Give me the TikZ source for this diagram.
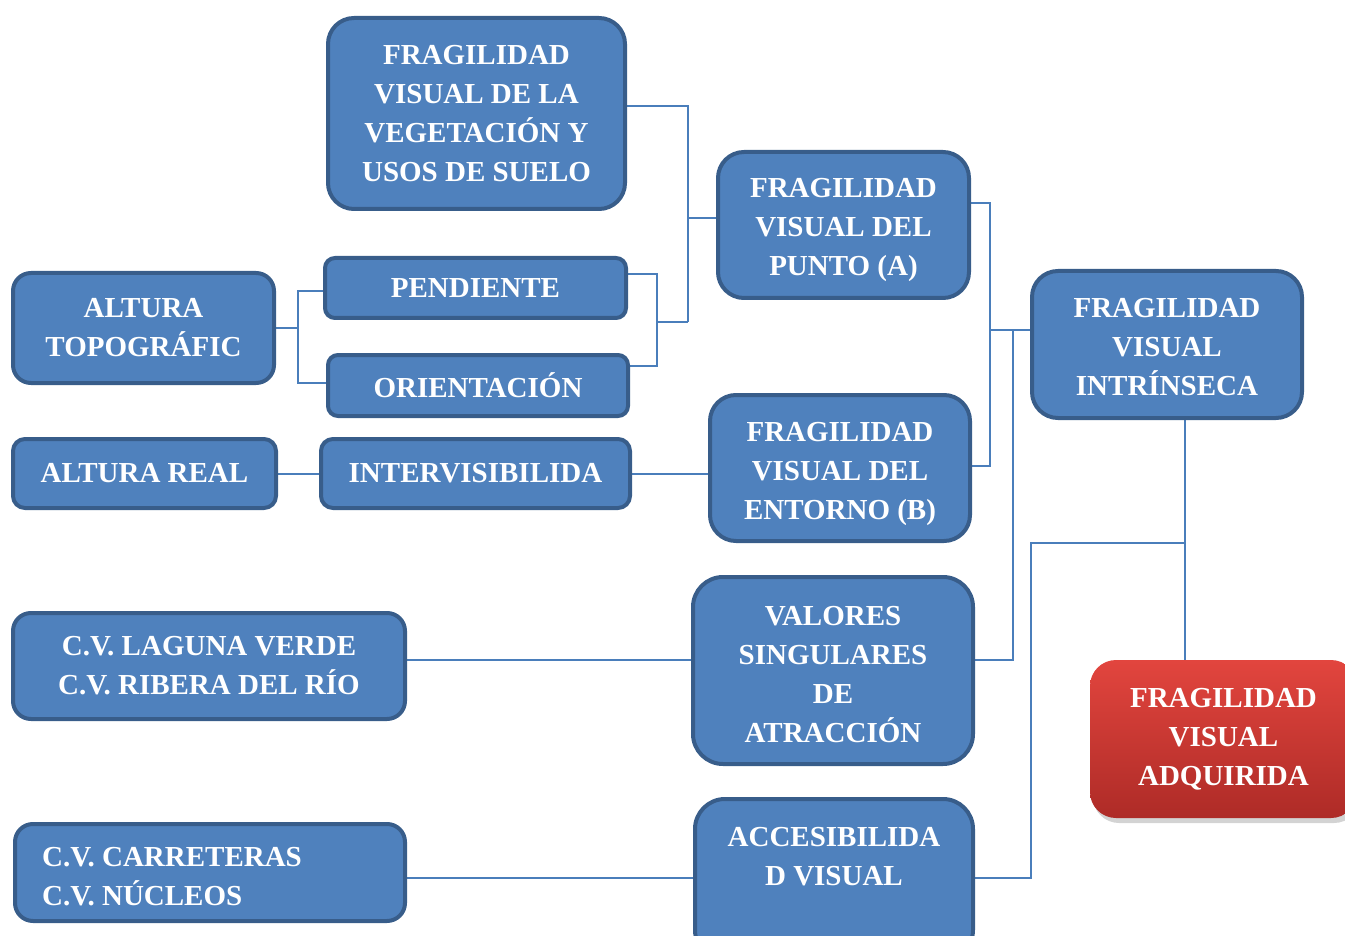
\documentclass[tikz,border=0pt]{standalone}
\usepackage{fontspec}
\setmainfont{Liberation Serif}
\usetikzlibrary{shadows,backgrounds}
\definecolor{boxfill}{HTML}{4F81BD}
\definecolor{boxedge}{HTML}{385D8A}
\definecolor{linkc}{HTML}{4A7EBB}
\definecolor{redtop}{HTML}{E2453E}
\definecolor{redbot}{HTML}{AE2B27}
\begin{document}
\begin{tikzpicture}[x=1pt,y=-1pt,
  box/.style={draw=boxedge, line width=4pt, fill=boxfill, rounded corners=#1,
    inner sep=0pt, align=center, text=white,
    font=\fontsize{29}{39}\selectfont\bfseries},
  box/.default=26pt,
  redbox/.style={draw=none, top color=redtop, bottom color=redbot, rounded corners=26pt,
    inner sep=0pt, align=center, text=white,
    font=\fontsize{29}{39}\selectfont\bfseries,
    drop shadow={opacity=0.35, shadow xshift=3pt, shadow yshift=-5pt}},
  txt/.style={inner sep=0pt, text=white, align=center, font=\fontsize{29}{39}\selectfont\bfseries},
  link/.style={draw=linkc, line width=2pt}]
\useasboundingbox (0,0) rectangle (1345,936);
\node[box, minimum width=297pt, minimum height=191pt] (veg) at (476.5,113.5)
  {FRAGILIDAD\\VISUAL DE LA\\VEGETACIÓN Y\\USOS DE SUELO};
\node[box, minimum width=251pt, minimum height=146pt] (ptoA) at (843.5,225) {};
\node[txt] (ptoAt) at (843.5,230) {FRAGILIDAD\\VISUAL DEL\\PUNTO (A)};
\node[box=18pt, minimum width=261pt, minimum height=110pt] (topo) at (143.5,328)
  {ALTURA\\TOPOGRÁFIC};
\node[box=10pt, minimum width=301pt, minimum height=60pt] (pend) at (475.5,288) {PENDIENTE};
\node[box=10pt, minimum width=300pt, minimum height=61pt] (orient) at (478,385.5) {ORIENTACIÓN};
\node[box, minimum width=270pt, minimum height=147pt] (intr) at (1167,344.5) {};
\node[txt] (intrt) at (1167,347.5) {FRAGILIDAD\\VISUAL\\INTRÍNSECA};
\node[box=12pt, minimum width=263pt, minimum height=69pt] (areal) at (144.5,473.5) {ALTURA REAL};
\node[box=12pt, minimum width=309pt, minimum height=69pt] (interv) at (475.5,473.5) {INTERVISIBILIDA};
\node[box, minimum width=260pt, minimum height=146pt] (entB) at (840,468) {};
\node[txt] (entBt) at (840,474) {FRAGILIDAD\\VISUAL DEL\\ENTORNO (B)};
\node[box=18pt, minimum width=392pt, minimum height=106pt] (lag) at (209,666)
  {C.V. LAGUNA VERDE\\C.V. RIBERA DEL RÍO};
\node[box=30pt, minimum width=280pt, minimum height=187pt] (val) at (833,670.5) {};
\node[txt] (valt) at (833,675) {VALORES\\SINGULARES\\DE\\ATRACCIÓN};
\node[redbox, minimum width=267pt, minimum height=158pt] (adq) at (1223.5,739)
  {FRAGILIDAD\\VISUAL\\ADQUIRIDA};
\node[box=18pt, minimum width=390pt, minimum height=97pt] (carr) at (210,872.5) {};
\node[txt, anchor=west, align=left] (carrt) at (42,876.5) {C.V. CARRETERAS\\C.V. NÚCLEOS};
\node[box=30pt, minimum width=278pt, minimum height=161pt] (acc) at (834,879.5) {};
\node[txt] (acct) at (834,856.5) {ACCESIBILIDA\\D VISUAL};
\coordinate (jv1) at (688,106);
\coordinate (jv2) at (688,322);
\coordinate (jvm) at (688,218);
\coordinate (jp1) at (657,274);
\coordinate (jp2) at (657,366);
\coordinate (jpm) at (657,322);
\coordinate (jt1) at (298,291);
\coordinate (jt2) at (298,383);
\coordinate (ja1) at (990,203);
\coordinate (ja2) at (990,466);
\coordinate (jam) at (990,330);
\coordinate (jvm2) at (1013,330);
\coordinate (jc0) at (1031,878);
\coordinate (jc1) at (1031,543);
\coordinate (jc2) at (1185,543);
\begin{scope}[on background layer]
\draw[link] (veg.east |- jv1) -- (jv1) -- (jv2);
\draw[link] (jvm) -- (ptoA.west |- jvm);
\draw[link] (pend.east |- jp1) -- (jp1) -- (jp2) -- (orient.east |- jp2);
\draw[link] (jpm) -- (jv2);
\draw[link] (topo.east) -- (topo.east -| jt1);
\draw[link] (pend.west |- jt1) -- (jt1) -- (jt2) -- (orient.west |- jt2);
\draw[link] (ptoA.east |- ja1) -- (ja1) -- (ja2) -- (entB.east |- ja2);
\draw[link] (jam) -- (intr.west |- jam);
\draw[link] ([yshift=10.5pt]val.east) -| (jvm2);
\draw[link] (areal) -- (interv);
\draw[link] (interv.east) -- (entB.west |- interv.east);
\draw[link] ([yshift=6pt]lag.east) -- ([yshift=6pt]lag.east -| val.west);
\draw[link] ([yshift=-5.5pt]carr.east) -- ([yshift=-5.5pt]carr.east -| acc.west);
\draw[link] (acc.east |- jc0) -- (jc0) -- (jc1) -- (jc2);
\draw[link] (intr.south -| jc2) -- (adq.north -| jc2);
\end{scope}
\end{tikzpicture}
\end{document}
